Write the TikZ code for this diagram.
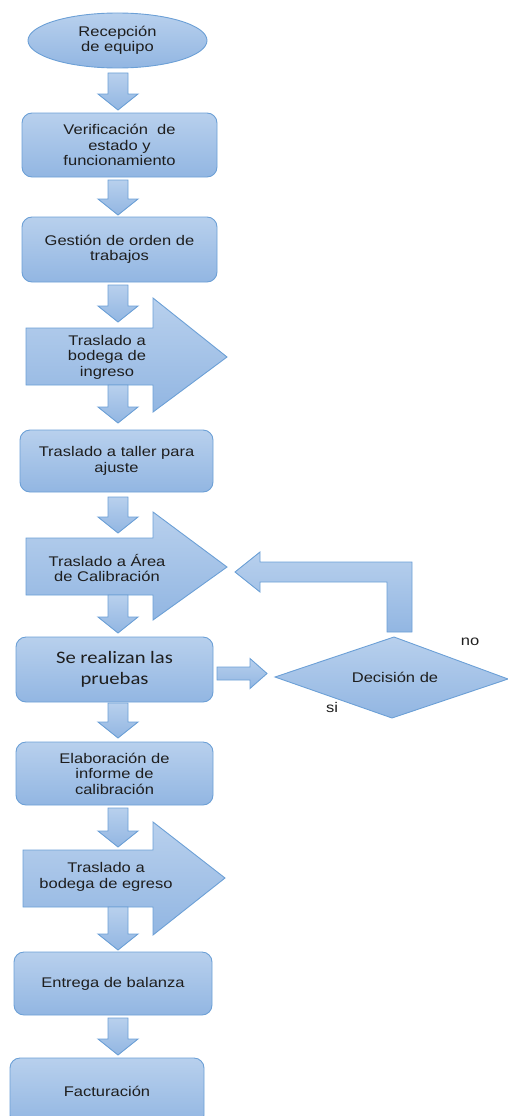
\documentclass[tikz,border=0pt]{standalone}
\usepackage{fontspec}
\setmainfont{Liberation Sans}[FakeStretch=1.18]
\newfontfamily\calib{Carlito}[FakeStretch=1.18]
\usetikzlibrary{shapes.geometric,calc}
\definecolor{topc}{RGB}{184,208,237}
\definecolor{botc}{RGB}{146,182,226}
\definecolor{bordc}{RGB}{108,160,214}
\definecolor{txt}{RGB}{30,30,30}
\tikzset{
  blk/.style={draw=bordc, line width=0.9pt, top color=topc, bottom color=botc},
  procbox/.style={blk, rounded corners=10pt, inner sep=0pt, align=center, text=txt,
    font=\fontsize{14}{15.5}\selectfont},
  lbl/.style={inner sep=0pt, align=center, text=txt, font=\fontsize{14}{15.5}\selectfont},
}
\newcommand\DnArr[2]{\draw[blk] let \p1=(#1),\p2=(#2) in
  (\x1-10pt,\y1) -- (\x1+10pt,\y1) -- (\x1+10pt,\y2+16pt) -- (\x1+20pt,\y2+16pt)
  -- (\x2,\y2) -- (\x1-20pt,\y2+16pt) -- (\x1-10pt,\y2+16pt) -- cycle;}
\begin{document}
\begin{tikzpicture}[x=1pt,y=-1pt]
\clip (0,0) rectangle (508,1116);
\useasboundingbox (0,0) rectangle (508,1116);

% process shapes
\node[blk, ellipse, minimum width=179, minimum height=55, inner sep=0pt, align=center, text=txt,
  font=\fontsize{14}{15.5}\selectfont] (rec) at (117.5,40.5) {Recepción\\de equipo};
\node[procbox, minimum width=195, minimum height=64] (ver) at (119.5,145) {Verificación~ de\\estado y\\funcionamiento};
\node[procbox, minimum width=195, minimum height=65] (ges) at (119.5,249.5) {Gestión de orden de\\trabajos};

% big arrow 1
\draw[blk] (26,328) -- (153,328) -- (153,298) -- (227,357) -- (153,412) -- (153,385) -- (26,385) -- cycle;
\node[lbl] (big1) at (107,357) {Traslado a\\bodega de\\ingreso};

\node[procbox, minimum width=193, minimum height=62] (tal) at (116.5,461) {Traslado a taller para\\ajuste};

% big arrow 2
\draw[blk] (26,538) -- (153,538) -- (153,512) -- (227,567) -- (153,620) -- (153,595) -- (26,595) -- cycle;
\node[lbl] (big2) at (107,568) {Traslado a Área\\de Calibración};

\node[procbox, minimum width=197, minimum height=65, font=\calib\fontsize{17.5}{21}\selectfont] (pru) at (114.5,669.5) {Se realizan las\\pruebas};

\node[procbox, minimum width=197, minimum height=63] (inf) at (114.5,773.5) {Elaboración de\\informe de\\calibración};

% big arrow 3
\draw[blk] (23,850) -- (153,850) -- (153,822) -- (225,878) -- (153,935) -- (153,907) -- (23,907) -- cycle;
\node[lbl] (big3) at (106,877) {Traslado a\\bodega de egreso};

\node[procbox, minimum width=198, minimum height=63] (ent) at (113,983.5) {Entrega de balanza};
\node[procbox, minimum width=194, minimum height=67] (fac) at (107,1091.5) {Facturación};

% decision
\coordinate (dW) at (275,677); \coordinate (dN) at (394,637);
\coordinate (dE) at (508,679); \coordinate (dS) at (392,718);
\draw[blk] (dW) -- (dN) -- (dE) -- (dS) -- cycle;
\node[lbl] (dec) at (395,677.5) {Decisión de};
\node[lbl] (no) at (470,642) {no};
\node[lbl] (si) at (332,707) {si};

% down arrows
\coordinate (a1t) at (118,73);   \coordinate (a1b) at (118,110);
\coordinate (a2t) at (118,180);  \coordinate (a2b) at (118,215);
\coordinate (a3t) at (118,285);  \coordinate (a3b) at (118,322);
\coordinate (a4t) at (118,385);  \coordinate (a4b) at (118,423);
\coordinate (a5t) at (118,497);  \coordinate (a5b) at (118,533);
\coordinate (a6t) at (118,595);  \coordinate (a6b) at (118,633);
\coordinate (a7t) at (118,703);  \coordinate (a7b) at (118,738);
\coordinate (a8t) at (118,808);  \coordinate (a8b) at (118,847);
\coordinate (a9t) at (118,907);  \coordinate (a9b) at (118,950);
\coordinate (a10t) at (118,1018); \coordinate (a10b) at (118,1055);
\DnArr{a1t}{a1b}
\DnArr{a2t}{a2b}
\DnArr{a3t}{a3b}
\DnArr{a4t}{a4b}
\DnArr{a5t}{a5b}
\DnArr{a6t}{a6b}
\DnArr{a7t}{a7b}
\DnArr{a8t}{a8b}
\DnArr{a9t}{a9b}
\DnArr{a10t}{a10b}

% right arrow to decision
\coordinate (r1) at (217,673.5); \coordinate (r2) at (267,673.5);
\draw[blk] let \p1=(r1),\p2=(r2) in
  (\x1,\y1+6.5pt) -- (\x2-17pt,\y1+6.5pt) -- (\x2-17pt,\y1+15pt) -- (\x2,\y2)
  -- (\x2-17pt,\y1-15pt) -- (\x2-17pt,\y1-6.5pt) -- (\x1,\y1-6.5pt) -- cycle;

% loop back arrow
\coordinate (l1) at (399.5,632); \coordinate (l2) at (235,572);
\draw[blk] let \p1=(l1),\p2=(l2) in
  (\x1+12.5pt,\y1) -- (\x1+12.5pt,\y2+10pt) -- (\x2+25pt,\y2+10pt) -- (\x2+25pt,\y2+20pt)
  -- (\x2,\y2) -- (\x2+25pt,\y2-20pt) -- (\x2+25pt,\y2-10pt) -- (\x1-12.5pt,\y2-10pt)
  -- (\x1-12.5pt,\y1) -- cycle;
\end{tikzpicture}
\end{document}
